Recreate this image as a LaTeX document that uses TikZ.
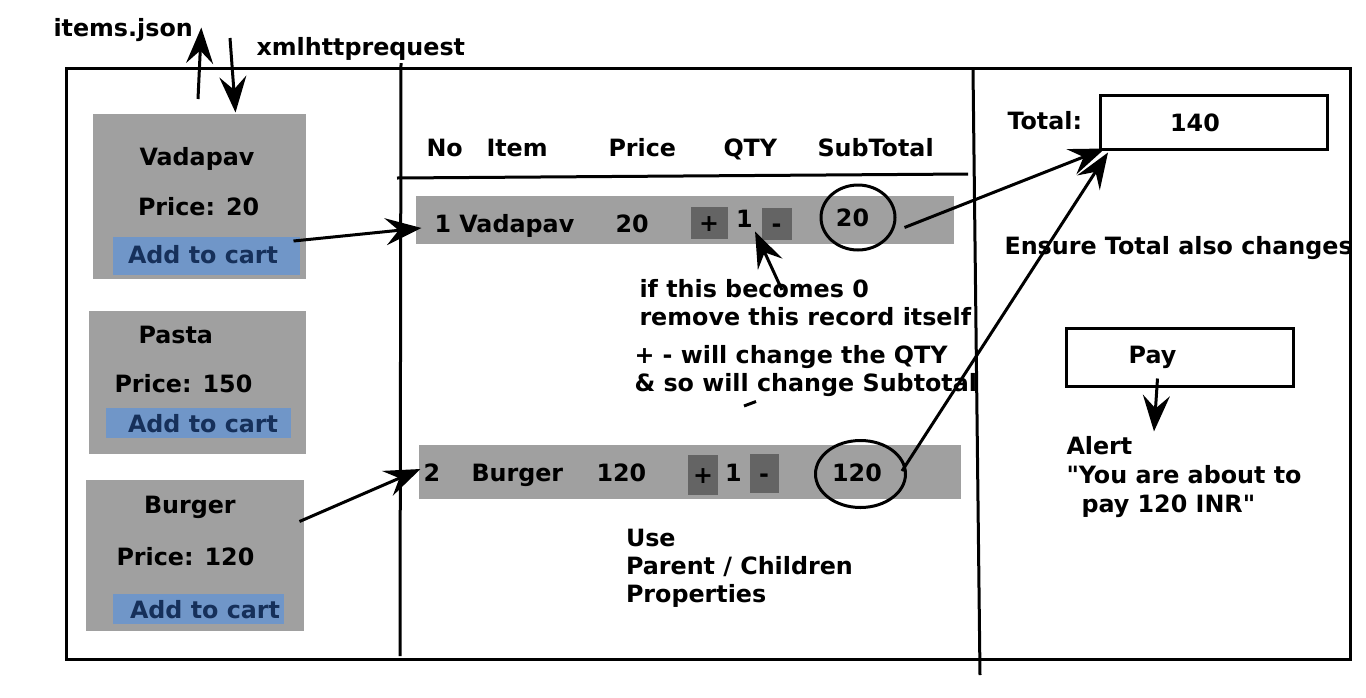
\documentclass[tikz,border=0pt]{standalone}
\usepackage{fontspec}
\setmainfont{DejaVu Sans}[Ligatures=TeXOff]
\usepackage{xcolor}
\usepackage{tikz}
\usetikzlibrary{arrows.meta,positioning,shapes.geometric}
\definecolor{cardgray}{RGB}{160,160,160}
\definecolor{btngray}{RGB}{100,100,100}
\definecolor{cartblue}{RGB}{112,150,200}
\definecolor{cartnavy}{RGB}{22,48,90}

\begin{document}
\begin{tikzpicture}[x=1pt,y=-1pt,line width=3pt,
    txt/.style={font=\fontsize{23.8}{28}\selectfont\bfseries,inner sep=0pt,anchor=base west},
    ctxt/.style={font=\fontsize{23.8}{28}\selectfont\bfseries,inner sep=0pt,anchor=base},
    card/.style={fill=cardgray,inner sep=0pt},
    cart/.style={fill=cartblue,inner sep=0pt},
    carttxt/.style={txt,text=cartnavy},
    btn/.style={fill=btngray,inner sep=0pt,font=\fontsize{23.8}{28}\selectfont\bfseries,text height=17pt,text depth=0pt},
    subring/.style={draw,ellipse,inner sep=0pt},
    box/.style={draw,inner sep=0pt},
    arr/.style={-{Stealth[length=36pt,width=27pt,inset=13pt]}}]
                \useasboundingbox (0,0) rectangle (1366,697);
                % Frame and dividers
                \draw (66,68) rectangle (1350,659);
                \draw (401,63) -- (400,656);
                \draw (973,69) -- (980,675);
                \draw (397,178) -- (968,174);
                % Request
                \node[txt] (items) at (52,36) {items.json};
                \node[txt] (xhr) at (255,55) {xmlhttprequest};
                % Cards
                \node[card,minimum width=213pt,minimum height=165pt] (vadapavcard) at (199.5,196.5) {};
                \node[card,minimum width=217pt,minimum height=143pt] (pastacard) at (197.5,382.5) {};
                \node[card,minimum width=218pt,minimum height=151pt] (burgercard) at (195,555.5) {};
                \node[txt] (vadapavname) at (138,165) {Vadapav};
                \node[txt] (vadapavprice) at (136.5,215.5) {Price: 20};
                \node[cart,minimum width=187pt,minimum height=38pt] (vadapavcart) at (206.5,255.5) {};
                \node[carttxt] (vadapavcarttxt) at (126.5,263.5) {Add to cart};
                \node[txt] (pastaname) at (137,343.5) {Pasta};
                \node[txt] (pastaprice) at (113,392.5) {Price: 150};
                \node[cart,minimum width=185pt,minimum height=30pt] (pastacart) at (198.5,422.5) {};
                \node[carttxt] (pastacarttxt) at (126.5,432) {Add to cart};
                \node[txt] (burgername) at (142.5,513) {Burger};
                \node[txt] (burgerprice) at (115,565.5) {Price: 120};
                \node[cart,minimum width=171pt,minimum height=30pt] (burgercart) at (198.5,609) {};
                \node[carttxt] (burgercarttxt) at (128.5,618) {Add to cart};
                % Table head
                \node[txt] (hno) at (425,156.5) {No};
                \node[txt] (hitem) at (485,156.5) {Item};
                \node[txt] (hprice) at (607,156.5) {Price};
                \node[txt] (hqty) at (722,156.5) {QTY};
                \node[txt] (hsub) at (816,156.5) {SubTotal};
                % Row 1
                \node[card,minimum width=538pt,minimum height=48pt] (row1) at (685,220) {};
                \node[txt] (no1) at (433,232.5) {1 Vadapav};
                \node[txt] (price1) at (614,232.5) {20};
                \node[btn,minimum width=37pt,minimum height=32pt] (plus1) at (709,223) {+};
                \node[txt] (qty1) at (734.5,227) {1};
                \node[btn,minimum width=30pt,minimum height=32pt] (minus1) at (776.5,224) {-};
                \node[subring,minimum width=74pt,minimum height=65pt] (sub1) at (858,217.5) {};
                \node[ctxt] (subval1) at (852.5,226.5) {20};
                % Row 2
                \node[card,minimum width=542pt,minimum height=54pt] (row2) at (690,472) {};
                \node[txt] (no2) at (422,481) {2};
                \node[txt] (item2) at (470,481) {Burger};
                \node[txt] (price2) at (595,481) {120};
                \node[btn,minimum width=30pt,minimum height=40pt] (plus2) at (703,475) {+};
                \node[txt] (qty2) at (723.5,481) {1};
                \node[btn,minimum width=29pt,minimum height=39pt] (minus2) at (764,473.5) {-};
                \node[subring,minimum width=90pt,minimum height=67pt] (sub2) at (860.5,474) {};
                \node[ctxt] (subval2) at (857,481) {120};
                % Notes
                \node[txt] (zeroa) at (638,297) {if this becomes 0};
                \node[txt] (zerob) at (638,325) {remove this record itself};
                \node[txt] (qtya) at (633,363) {+ - will change the QTY};
                \node[txt] (qtyb) at (633,391) {\& so will change Subtotal};
                \draw (744,406) -- (756,401.5);
                \node[txt] (usea) at (624.5,546) {Use};
                \node[txt] (useb) at (624.5,574) {Parent / Children};
                \node[txt] (usec) at (624.5,602) {Properties};
                % Total and pay
                \node[txt] (totallbl) at (1006,129) {Total:};
                \node[box,minimum width=227pt,minimum height=54pt] (total) at (1214,122) {};
                \node[ctxt] (totalval) at (1195,131.5) {140};
                \node[txt] (ensure) at (1003,254) {Ensure Total also changes};
                \node[box,minimum width=227pt,minimum height=58pt] (pay) at (1179.5,357.5) {};
                \node[ctxt] (paytxt) at (1152.5,363.5) {Pay};
                \node[txt] (alerta) at (1065,454) {Alert};
                \node[txt] (alertb) at (1065,483) {"You are about to};
                \node[txt] (alertc) at (1080,512) {pay 120 INR"};
                % Arrows
                \coordinate (fetchout) at (198,99);
                \coordinate (xhrin) at (230,38);
                \coordinate (zeronote) at (782,290);
                \draw[arr] (fetchout) -- ([xshift=7pt,yshift=2pt]items.east);
                \draw[arr] (xhrin) -- ([xshift=36pt]vadapavcard.north);
                \draw[arr] ([xshift=-8pt,yshift=-6pt]vadapavcart.north east) -- ([xshift=7pt,yshift=-8pt]row1.west);
                \draw[arr] ([xshift=-6pt,yshift=34pt]burgercard.east) -- ([xshift=3pt,yshift=3pt]row2.west);
                \draw[arr] (zeronote) -- ([xshift=1pt,yshift=-3pt]qty1.south east);
                \draw[arr] ([xshift=8pt,yshift=-10pt]sub1.east) -- ([xshift=6pt,yshift=2pt]total.south west);
                \draw[arr] ([xshift=-5pt,yshift=3pt]sub2.east) -- ([xshift=9pt,yshift=-2pt]total.south west);
                \draw[arr] ([xshift=5pt,yshift=-15pt]paytxt.base) -- ([xshift=89pt,yshift=3pt]alerta.north west);
            \end{tikzpicture}
\end{document}
